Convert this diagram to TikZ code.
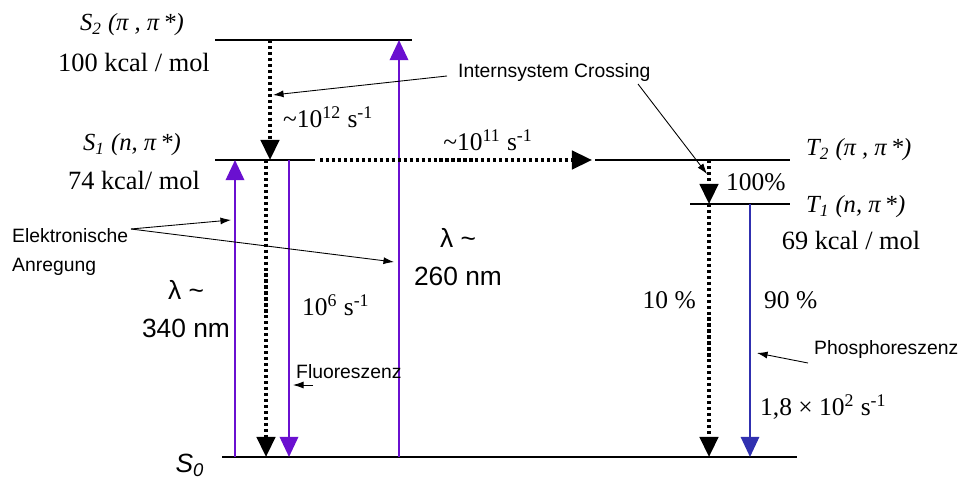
\documentclass[tikz,border=0pt]{standalone}
\usepackage{fontspec}
\setmainfont{Liberation Serif}
\setsansfont{Liberation Sans}
\usetikzlibrary{arrows.meta}

\definecolor{pumpviolet}{RGB}{106,16,208}
\definecolor{phosblue}{RGB}{48,48,176}

\begin{document}
\begin{tikzpicture}[
  x=0.02cm, y=-0.02cm,
  level/.style={line width=1.6pt},
  bigtip/.style={-{Triangle[width=10.5pt,length=11.5pt]}},
  nonrad/.style={bigtip, line width=2pt, dash pattern=on 1.8pt off 1.6pt},
  pump/.style={bigtip, line width=1.3pt, pumpviolet},
  emit/.style={bigtip, line width=1.3pt, pumpviolet},
  phos/.style={bigtip, line width=1.1pt, phosblue},
  leader/.style={-{Latex[length=6pt,width=4pt]}, line width=0.5pt},
  state/.style={font=\fontsize{14}{16}\selectfont\itshape},
  energy/.style={font=\fontsize{15}{16}\selectfont},
  rate/.style={font=\fontsize{14.5}{16}\selectfont},
  remark/.style={font=\fontsize{11}{16}\selectfont\sffamily, align=left},
  wave/.style={font=\fontsize{15}{21.5}\selectfont\sffamily, align=center},
]
  \useasboundingbox (0,0) rectangle (959,479);

  % Energy levels
  \coordinate (S2a) at (215,40);  \coordinate (S2b) at (412,40);
  \coordinate (S1a) at (215,160); \coordinate (S1b) at (315,160);
  \coordinate (T2a) at (595,160); \coordinate (T2b) at (790,160);
  \coordinate (T1a) at (690,204); \coordinate (T1b) at (790,204);
  \coordinate (S0a) at (222,457); \coordinate (S0b) at (797,457);
  \draw[level] (S2a) -- (S2b);
  \draw[level] (S1a) -- (S1b);
  \draw[level] (T2a) -- (T2b);
  \draw[level] (T1a) -- (T1b);
  \draw[level] (S0a) -- (S0b);

  % State labels
  \node[state] (s2lab) at (132,25) {S\textsubscript{2} (π , π\,*)};
  \node[energy] (s2en) at (134,62) {100 kcal / mol};
  \node[state] (s1lab) at (132,145) {S\textsubscript{1} (n, π\,*)};
  \node[energy] (s1en) at (134,180) {74 kcal/ mol};
  \node[state, anchor=west] (t2lab) at (800,150) {T\textsubscript{2} (π , π\,*)};
  \node[state, anchor=west] (t1lab) at (800,207) {T\textsubscript{1} (n, π\,*)};
  \node[energy] (t1en) at (851,240) {69 kcal / mol};
  \node[font=\fontsize{15}{16}\selectfont\sffamily\itshape] (s0lab) at (190,465) {S\textsubscript{0}};

  % Transition end points
  \coordinate (icA) at (270,40);  \coordinate (icB) at (270,160);
  \coordinate (nrA) at (266,160); \coordinate (nrB) at (266,457);
  \coordinate (uvA) at (235,457); \coordinate (uvB) at (235,160);
  \coordinate (flA) at (289,160); \coordinate (flB) at (289,457);
  \coordinate (vuA) at (399,457); \coordinate (vuB) at (399,40);
  \coordinate (iscA) at (320,160); \coordinate (iscB) at (592,160);
  \coordinate (ttA) at (709,160); \coordinate (ttB) at (709,204);
  \coordinate (tnA) at (709,204); \coordinate (tnB) at (709,457);
  \coordinate (phA) at (750,204); \coordinate (phB) at (750,457);

  % Transitions
  \draw[nonrad] (icA) -- (icB);
  \draw[nonrad] (nrA) -- (nrB);
  \draw[pump] (uvA) -- (uvB);
  \draw[emit] (flA) -- (flB);
  \draw[pump] (vuA) -- (vuB);
  \draw[nonrad] (iscA) -- (iscB);
  \draw[nonrad] (ttA) -- (ttB);
  \draw[nonrad] (tnA) -- (tnB);
  \draw[phos] (phA) -- (phB);

  % Rates and yields
  \node[rate, anchor=west] (k12) at (277,117) {\textasciitilde 10\textsuperscript{12} s\textsuperscript{-1}};
  \node[rate] (k11) at (488,140) {\textasciitilde 10\textsuperscript{11} s\textsuperscript{-1}};
  \node[rate, anchor=west] (kfl) at (296,305) {10\textsuperscript{6} s\textsuperscript{-1}};
  \node[rate, anchor=west] (y100) at (720,182) {100\%};
  \node[rate, anchor=east] (y10) at (702,300) {10 \%};
  \node[rate, anchor=west] (y90) at (758,300) {90 \%};
  \node[rate, anchor=west] (kph) at (754,407) {1,8 × 10\textsuperscript{2} s\textsuperscript{-1}};

  % Wavelengths
  \node[wave] (w340) at (186,309) {λ \textasciitilde\\340 nm};
  \node[wave] (w260) at (458,257) {λ \textasciitilde\\260 nm};

  % Remarks with leaders
  \node[remark, anchor=west] (isc) at (452,73) {Internsystem Crossing};
  \coordinate (iscL) at (447,76);  \coordinate (iscT1) at (273,95);
  \coordinate (iscR) at (638,84);  \coordinate (iscT2) at (707,174);
  \draw[leader] (iscL) -- (iscT1);
  \draw[leader] (iscR) -- (iscT2);

  \node[remark, anchor=west] (elek) at (6,252) {Elektronische\\Anregung};
  \coordinate (elekR) at (131,229);
  \coordinate (elekT1) at (231,220); \coordinate (elekT2) at (394,262);
  \draw[leader] (elekR) -- (elekT1);
  \draw[leader] (elekR) -- (elekT2);

  \node[remark, anchor=west] (fluo) at (290,372) {Fluoreszenz};
  \coordinate (fluoA) at (313,385); \coordinate (fluoT) at (293,385);
  \draw[leader] (fluoA) -- (fluoT);

  \node[remark, anchor=west] (phosp) at (808,350) {Phosphoreszenz};
  \coordinate (phospA) at (808,363); \coordinate (phospT) at (757,353);
  \draw[leader] (phospA) -- (phospT);
\end{tikzpicture}
\end{document}
